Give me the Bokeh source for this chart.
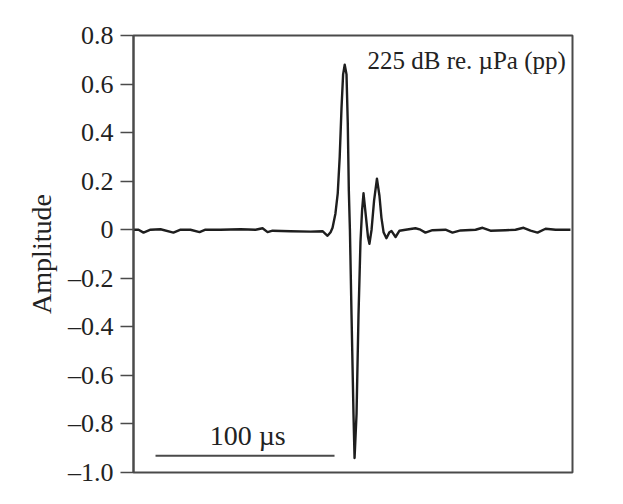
from bokeh.plotting import figure
from bokeh.models import Range1d, FixedTicker, ColumnDataSource
from bokeh.core.properties import value
from bokeh.embed import file_html
from bokeh.resources import INLINE

# time in microseconds, amplitude (normalised)
time_us = [0.0, 2.8, 5.6, 9.5, 15.1, 22.3, 26.3, 31.8, 36.9, 40.2, 48.6, 59.8,
           68.2, 72.1, 74.9, 77.7, 87.7, 98.9, 105.6, 108.4, 110.1, 111.2, 112.8,
           114.1, 115.2, 116.2, 117.1, 118.0, 119.0, 119.7, 120.3, 120.9, 121.8,
           122.9, 123.5, 124.6, 125.7, 126.8, 127.7, 128.5, 129.9, 131.0, 131.8,
           133.0, 134.4, 136.0, 137.4, 138.5, 139.7, 141.3, 143.0, 144.1, 146.4,
           148.6, 152.0, 157.5, 160.3, 163.1, 167.0, 174.3, 178.2, 182.7, 191.1,
           195.0, 199.4, 207.8, 213.4, 217.9, 221.8, 225.7, 230.2, 235.8, 244.1]
amplitude = [0.0, 0.0, -0.012, 0.0, 0.002, -0.012, 0.0, 0.0, -0.01, 0.0, 0.0, 0.002,
             0.0, 0.006, -0.01, -0.004, -0.006, -0.008, -0.006, -0.025, -0.01, 0.008, 0.066,
             0.15, 0.30, 0.50, 0.64, 0.68, 0.64, 0.44, 0.16, 0.0, -0.35,
             -0.76, -0.94, -0.76, -0.35, -0.05, 0.08, 0.15, 0.05, -0.03, -0.058,
             0.0, 0.12, 0.21, 0.14, 0.05, -0.01, -0.035, -0.01, -0.005, -0.03,
             -0.004, 0.0, 0.006, 0.0, -0.012, -0.002, 0.0, -0.012, -0.003, 0.0,
             0.008, -0.004, -0.002, 0.0, 0.008, -0.004, -0.012, 0.004, 0.0, 0.0]

y_ticks = [0.8, 0.6, 0.4, 0.2, 0.0, -0.2, -0.4, -0.6, -0.8, -1.0]
y_tick_labels = ["0.8", "0.6", "0.4", "0.2", "0", "\u20130.2", "\u20130.4",
                 "\u20130.6", "\u20130.8", "\u20131.0"]

scale_bar_start = 12.3
scale_bar_length = 100.0
scale_bar_level = -0.931
scale_bar_text = "100 \u00b5s"
level_text = "225 dB re. \u00b5Pa (pp)"

FONT = "Liberation Serif"

p = figure(width=607, height=488, output_backend="svg", toolbar_location=None,
           x_range=Range1d(0, 245.25), y_range=Range1d(-1.0, 0.8),
           min_border_left=133, min_border_right=35, min_border_top=35,
           min_border_bottom=16)

p.background_fill_color = "white"
p.border_fill_color = "white"
p.outline_line_color = "#4a4a4a"
p.outline_line_width = 2
p.grid.visible = False
p.xaxis.visible = False

ya = p.yaxis[0]
ya.ticker = FixedTicker(ticks=y_ticks)
ya.major_label_overrides = {t: l for t, l in zip(y_ticks, y_tick_labels)}
ya.major_tick_in = 0
ya.major_tick_out = 13
ya.minor_tick_line_color = None
ya.major_tick_line_color = "#4a4a4a"
ya.major_tick_line_width = 1.5
ya.axis_line_color = "#4a4a4a"
ya.axis_line_width = 2
ya.major_label_text_font = FONT
ya.major_label_text_font_size = "26px"
ya.major_label_text_color = "#222222"
ya.major_label_standoff = 7
ya.axis_label = "Amplitude"
ya.axis_label_text_font = FONT
ya.axis_label_text_font_size = "28px"
ya.axis_label_text_font_style = "normal"
ya.axis_label_text_color = "#222222"
ya.axis_label_standoff = 8

src = ColumnDataSource(data=dict(t=time_us, a=amplitude))
p.line("t", "a", source=src, line_color="#1e1e1e", line_width=2.4,
       line_join="round")

p.segment(x0=[scale_bar_start], y0=[scale_bar_level],
          x1=[scale_bar_start + scale_bar_length], y1=[scale_bar_level],
          line_color="#4a4a4a", line_width=2.2)
p.text(x=[scale_bar_start + scale_bar_length / 2 + 1.5], y=[-0.912],
       text=[scale_bar_text], text_font=value(FONT), text_font_size="28px",
       text_align="center", text_baseline="bottom", text_color="#222222")
p.text(x=[130.7], y=[0.64], text=[level_text], text_font=value(FONT),
       text_font_size="25px", text_align="left", text_baseline="bottom",
       text_color="#222222")

open("out.html", "w").write(file_html(p, INLINE))
